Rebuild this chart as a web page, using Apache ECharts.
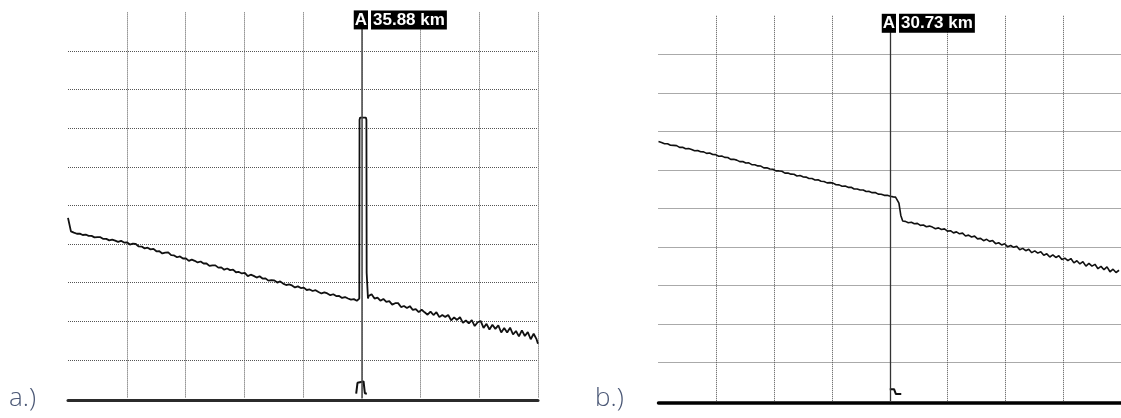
<!DOCTYPE html>
<html>
<head>
<meta charset="utf-8">
<script src="https://cdn.jsdelivr.net/npm/echarts@6/dist/echarts.min.js"></script>
<style>
html,body{margin:0;padding:0;background:#fff;}
#c{width:1121px;height:418px;}
</style>
</head>
<body>
<div id="c"></div>
<script>
// ---- Panel a (reflective event) ----
const cursorA = 35.88;            // km, marker A
const kmPerDivA = 7.176;          // km per horizontal division
const stepA = 0.36;               // km between trace samples
const preA = [
23.40,21.65,21.48,21.34,21.36,21.18,21.24,21.07,21.07,20.87,
20.91,20.90,20.67,20.68,20.49,20.59,20.46,20.29,20.43,20.20,
20.23,19.95,20.05,20.02,19.70,19.68,19.45,19.54,19.32,19.39,
19.07,19.08,18.79,18.90,18.93,18.58,18.54,18.30,18.41,18.14,
18.16,17.83,17.99,17.84,17.63,17.75,17.49,17.50,17.19,17.26,
17.25,16.96,16.99,16.69,16.84,16.63,16.69,16.36,16.40,16.20,
16.28,15.85,16.04,15.89,15.67,15.84,15.54,15.57,15.27,15.33,
15.31,15.02,15.18,14.88,14.70,14.79,14.65,14.39,14.53,14.31,
14.37,14.06,14.13,13.93,14.04,13.81,13.61,13.74,13.61,13.39,
13.51,13.27,13.29,13.03,13.15,12.96,12.81,12.88,12.67];
const spikeA = [[35.50,12.62],[35.58,12.95],[35.61,36.10],[35.68,36.38],[36.38,36.38],[36.45,36.10],[36.48,16.30],[36.60,16.05],[36.64,12.95]];
const postStartA = 36.72;
const postA = [
13.28,13.52,12.95,13.08,12.67,12.90,12.52,12.61,12.16,12.35,
12.36,11.85,11.99,11.73,11.97,11.48,11.59,11.19,11.50,11.17,
10.86,11.26,10.82,11.19,10.55,10.83,10.58,10.82,10.14,10.52,
10.18,10.55,9.81,10.11,9.74,10.17,9.39,9.88,10.05,9.16,
9.68,8.95,9.56,9.03,9.48,8.56,9.13,8.55,9.18,8.30,
8.75,8.06,8.83,8.10,8.61,7.68,8.40,7.66];
const tailA = [[57.40,7.10]];
const pulseA = [[35.20,0.64],[35.34,0.70],[35.36,2.05],[35.46,2.22],[36.10,2.22],[36.22,2.05],[36.26,0.70],[36.50,0.64]];

// ---- Panel b (non-reflective event) ----
const cursorB = 30.73;
const kmPerDivB = 7.6825;
const stepB = 0.4;
const preB = [
33.68,33.56,33.40,33.40,33.20,33.19,33.15,32.93,32.94,32.74,
32.78,32.66,32.49,32.53,32.35,32.34,32.15,32.20,32.00,31.98,
31.78,31.80,31.63,31.61,31.37,31.39,31.27,31.08,31.09,30.90,
30.91,30.68,30.67,30.52,30.50,30.26,30.28,30.11,30.08,29.88,
29.87,29.82,29.59,29.61,29.45,29.44,29.22,29.27,29.10,29.07,
28.88,28.88,28.70,28.73,28.53,28.50,28.32,28.35,28.29,28.07,
28.06,27.89,27.90,27.74,27.75,27.53,27.53,27.39,27.39,27.20,
27.21,27.05,27.06,26.86,26.85,26.70,26.70,26.58,26.50];
const stepEventB = [[31.50,26.47],[31.75,26.36],[31.95,25.70],[32.20,24.10],[32.45,23.38]];
const postStartB = 32.8;
const postB = [
23.32,23.14,23.20,23.01,23.06,22.80,22.85,22.62,22.71,22.58,
22.37,22.48,22.27,22.35,22.06,22.11,21.83,21.96,21.71,21.80,
21.43,21.54,21.30,21.41,21.05,21.12,20.82,20.99,20.73,20.83,
20.43,20.55,20.27,20.42,20.02,20.19,19.95,20.09,19.65,19.82,
19.52,19.71,19.26,19.49,19.20,19.39,18.92,19.11,18.70,18.98,
18.64,18.87,18.37,18.55,18.23,18.50,17.94,18.21,17.80,18.09,
17.51,17.87,17.51,17.75,17.18,17.48,17.05,17.41,16.78,17.12,
16.69,16.98];
const pulseB = [[30.73,1.55],[31.30,1.55],[31.55,0.91],[32.26,0.91]];

// y axis: dB, 5 dB per division, 10 divisions
const dbPerDiv = 5, dbMax = 50;

function sampled(arr, start, step){ return arr.map((v,i)=>[+(start+i*step).toFixed(3), v]); }
const traceA = [...sampled(preA,0,stepA), ...spikeA, ...sampled(postA,postStartA,stepA), ...tailA];
const traceB = [...sampled(preB,0,stepB), ...stepEventB, ...sampled(postB,postStartB,stepB)];

const gridLine = {show:true, showMinLine:false, showMaxLine:true, lineStyle:{color:'#555', width:1, type:[1,1]}};
const gridLineY = {show:true, showMinLine:false, showMaxLine:false, lineStyle:{color:'#555', width:1, type:[1,1]}};

function xAxis(gi, kmDiv, lineW, lineC, off){
  return {type:'value', gridIndex:gi, min:0, max:+(kmDiv*8).toFixed(4), interval:kmDiv, offset:off,
    axisLine:{show:true, onZero:false, lineStyle:{color:lineC, width:lineW}}, axisTick:{show:false}, axisLabel:{show:false},
    splitLine:gridLine};
}
function yAxis(gi){
  return {type:'value', gridIndex:gi, min:0, max:dbMax, interval:dbPerDiv,
    axisLine:{show:false}, axisTick:{show:false}, axisLabel:{show:false}, splitLine:gridLineY};
}
const FONT = 'Liberation Sans';
function labelSeries(gi, km){
  return {type:'scatter', xAxisIndex:gi, yAxisIndex:gi, z:10, symbolSize:1, silent:true,
    itemStyle:{color:'rgba(0,0,0,0)', opacity:1},
    data:[[km, dbMax]],
    label:{show:true, position:[-7.5,-2], opacity:1, color:'#fff', fontSize:17, fontWeight:'bold', fontFamily:FONT,
      formatter:'{a|A}{s|}{k|'+km.toFixed(2)+' km}',
      rich:{
        a:{backgroundColor:'#000', color:'#fff', fontSize:17, fontWeight:'bold', fontFamily:FONT, lineHeight:20, padding:[1,1,1,1]},
        s:{width:3, lineHeight:20, fontSize:17},
        k:{backgroundColor:'#000', color:'#fff', fontSize:17, fontWeight:'bold', fontFamily:FONT, lineHeight:20, padding:[1,2,1,2]}
      }}};
}

const chart = echarts.init(document.getElementById('c'), null, {renderer:'canvas'});
chart.setOption({
  animation:false,
  backgroundColor:'#fff',
  grid:[
    {left:68, top:12.4, width:470, height:386.2},
    {left:658.5, top:15.8, width:466.5, height:385.3}
  ],
  xAxis:[xAxis(0,kmPerDivA,3,'#2b2b2b',1.4), xAxis(1,kmPerDivB,3.5,'#000',1.6)],
  yAxis:[yAxis(0), yAxis(1)],
  graphic:[
    {type:'text', left:9, top:386, style:{text:'a.)', fontSize:26, fontWeight:300, fontFamily:'Open Sans, sans-serif', fill:'#4b5876'}},
    {type:'text', left:595, top:386, style:{text:'b.)', fontSize:26, fontWeight:300, fontFamily:'Open Sans, sans-serif', fill:'#4b5876'}}
  ],
  series:[
    {type:'line', xAxisIndex:0, yAxisIndex:0, data:traceA, showSymbol:false, silent:true,
      lineStyle:{color:'#111', width:1.8},
      markLine:{silent:true, symbol:['none','none'], label:{show:false}, lineStyle:{color:'#4a4a4a', width:1.5, type:'solid'}, data:[{xAxis:cursorA}]}},
    {type:'line', xAxisIndex:0, yAxisIndex:0, data:pulseA, showSymbol:false, silent:true, lineStyle:{color:'#111', width:2}},
    labelSeries(0, cursorA),
    {type:'line', xAxisIndex:1, yAxisIndex:1, data:traceB, showSymbol:false, silent:true,
      lineStyle:{color:'#111', width:1.6},
      markLine:{silent:true, symbol:['none','none'], label:{show:false}, lineStyle:{color:'#333', width:1.3, type:'solid'}, data:[{xAxis:cursorB}]}},
    {type:'line', xAxisIndex:1, yAxisIndex:1, data:pulseB, showSymbol:false, silent:true, lineStyle:{color:'#111', width:2}},
    labelSeries(1, cursorB)
  ]
});
</script>
</body>
</html>
